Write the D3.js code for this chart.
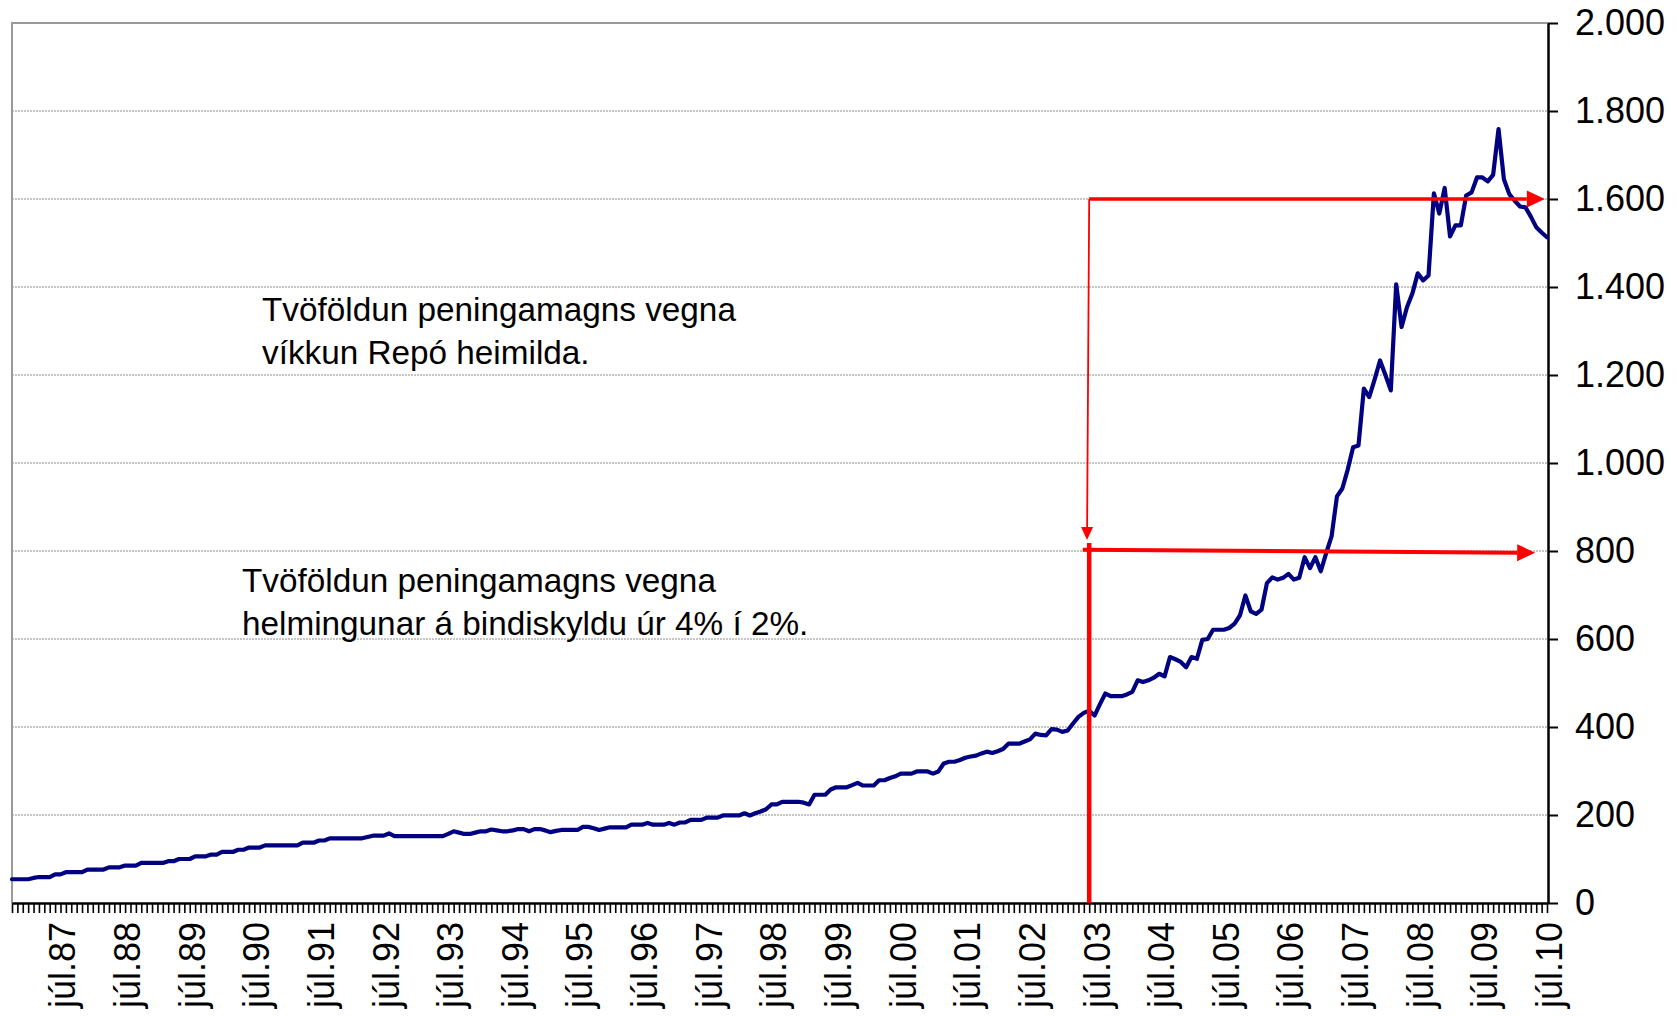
<!DOCTYPE html>
<html>
<head>
<meta charset="utf-8">
<script src="https://cdn.jsdelivr.net/npm/d3@7"></script>
<style>
  html, body { margin: 0; padding: 0; background: #fff; }
  svg { display: block; font-family: "Liberation Sans", Arial, sans-serif; }
</style>
</head>
<body>
<div id="chart"></div>
<script>
// Peningamagn, monthly values from okt.1986 to júl.2010
const firstMonth = new Date(1986, 9, 1);
const monthNames = ['jan', 'feb', 'mar', 'apr', 'maí', 'jún', 'júl', 'ágú', 'sep', 'okt', 'nóv', 'des'];
const labelMonth = 6; // only júl gets a label

const values = [
    54, 54, 54, 54, 57, 59, 59, 59, 65, 65, 70, 70,
    70, 70, 76, 76, 76, 76, 81, 81, 81, 85, 85, 85,
    91, 91, 91, 91, 91, 95, 95, 100, 100, 100, 106, 106,
    106, 110, 110, 116, 116, 116, 121, 121, 126, 126, 126, 131,
    131, 131, 131, 131, 131, 131, 137, 137, 137, 142, 142, 147,
    147, 147, 147, 147, 147, 147, 150, 153, 153, 153, 158, 152,
    152, 152, 152, 152, 152, 152, 152, 152, 152, 157, 163, 160,
    157, 157, 160, 163, 163, 167, 165, 163, 163, 165, 168, 168,
    163, 168, 168, 165, 161, 164, 166, 166, 166, 166, 173, 173,
    170, 166, 169, 172, 172, 172, 172, 178, 178, 178, 182, 178,
    178, 178, 182, 178, 183, 183, 189, 189, 189, 194, 194, 194,
    199, 199, 199, 199, 204, 199, 204, 208, 213, 224, 224, 230,
    230, 230, 230, 228, 224, 246, 246, 246, 258, 263, 263, 263,
    268, 273, 267, 267, 267, 279, 279, 284, 288, 294, 294, 294,
    299, 299, 299, 294, 299, 317, 321, 321, 325, 330, 333, 335,
    340, 344, 341, 345, 350, 362, 362, 362, 367, 372, 385, 382,
    381, 395, 394, 389, 392, 408, 423, 432, 437, 426, 452, 476,
    470, 470, 470, 474, 480, 506, 502, 506, 512, 521, 515, 559,
    554, 548, 536, 559, 555, 598, 600, 621, 621, 621, 625, 635,
    654, 699, 663, 657, 667, 727, 740, 735, 739, 748, 735, 739,
    786, 761, 786, 754, 795, 833, 924, 942, 985, 1036, 1040, 1169,
    1150, 1190, 1233, 1200, 1165, 1406, 1309, 1354, 1385, 1431, 1415, 1426,
    1613, 1567, 1625, 1515, 1540, 1540, 1608, 1615, 1649, 1649, 1640, 1655,
    1759, 1645, 1611, 1596, 1583, 1581, 1560, 1536, 1524, 1513
];

const yTicks = [0, 200, 400, 600, 800, 1000, 1200, 1400, 1600, 1800, 2000];

// red guide lines (month index, value) and the notes next to them
const guideMonth = 200;
const guideLines = [
    { from: [guideMonth, 0], to: [guideMonth, 818], width: 4.5, arrow: false },
    { from: [guideMonth - 1.2, 803], to: [282.8, 796], width: 4, arrow: true },
    { from: [guideMonth, 1600], to: [284.6, 1600], width: 3.5, arrow: true },
    { from: [guideMonth, 1600], to: [199.6, 825], width: 1.8, arrow: true, small: true }
];
const notes = [
    ['Tvöföldun peningamagns vegna', 'víkkun Repó heimilda.'],
    ['Tvöföldun peningamagns vegna', 'helmingunar á bindiskyldu úr 4% í 2%.']
];

const width = 1678, height = 1016;
const plot = { left: 12, right: 1547, top: 23, bottom: 903 };

const months = values.map((v, i) => d3.timeMonth.offset(firstMonth, i));

const svg = d3.select('#chart').append('svg')
    .attr('width', width)
    .attr('height', height);

svg.append('rect').attr('width', width).attr('height', height).attr('fill', '#fff');

const x = d3.scaleLinear().domain([0, values.length - 1]).range([plot.left, plot.right]);
const y = d3.scaleLinear().domain([0, 2000]).range([plot.bottom, plot.top]);

const isLocale = d3.formatLocale({ decimal: ',', thousands: '.', grouping: [3], currency: ['', ' kr.'] });
const fmt = isLocale.format(',d');

// gridlines
svg.append('g')
    .selectAll('line')
    .data(yTicks.filter(d => d > 0 && d < 2000))
    .enter().append('line')
    .attr('x1', plot.left).attr('x2', plot.right + 1)
    .attr('y1', d => y(d)).attr('y2', d => y(d))
    .attr('stroke', '#8c8c8c')
    .attr('stroke-width', 1)
    .attr('stroke-dasharray', '2,1');

// plot area border (top + left)
svg.append('path')
    .attr('d', `M${plot.left},${plot.bottom}V${y(2000)}H${plot.right + 1}`)
    .attr('fill', 'none')
    .attr('stroke', '#9a9a9a')
    .attr('stroke-width', 2);

// x axis: a tick for every month
const xAxis = d3.axisBottom(x)
    .tickValues(d3.range(values.length))
    .tickFormat('')
    .tickSize(10)
    .tickSizeOuter(0);

const gx = svg.append('g')
    .attr('transform', `translate(0,${plot.bottom})`)
    .call(xAxis);
gx.select('.domain').attr('stroke', '#000').attr('stroke-width', 2.5);
gx.selectAll('.tick line').attr('stroke', '#000').attr('stroke-width', 1.6);

// júl labels, rotated
const labelIdx = d3.range(values.length).filter(i => months[i].getMonth() === labelMonth);
svg.append('g')
    .selectAll('text')
    .data(labelIdx)
    .enter().append('text')
    .attr('transform', i => `translate(${x(i) + 2},${plot.bottom + 19}) rotate(-90)`)
    .attr('text-anchor', 'end')
    .attr('dy', '0.36em')
    .attr('font-size', 36)
    .attr('fill', '#000')
    .text(i => monthNames[labelMonth] + '.' + String(months[i].getFullYear() % 100).padStart(2, '0'));

// y axis on the right
const yAxis = d3.axisRight(y)
    .tickValues(yTicks)
    .tickFormat(fmt)
    .tickSize(10)
    .tickSizeOuter(0)
    .tickPadding(17);

const gy = svg.append('g')
    .attr('transform', `translate(${plot.right + 1},0)`)
    .call(yAxis);
gy.select('.domain').attr('stroke', '#000').attr('stroke-width', 2.5);
gy.selectAll('.tick line').attr('stroke', '#000').attr('stroke-width', 2);
gy.selectAll('.tick text')
    .attr('font-size', 36)
    .attr('font-family', '"Liberation Sans", Arial, sans-serif')
    .attr('fill', '#000');

// the series
const line = d3.line()
    .x((d, i) => x(i))
    .y(d => y(d));

svg.append('path')
    .datum(values)
    .attr('d', line)
    .attr('fill', 'none')
    .attr('stroke', '#000080')
    .attr('stroke-width', 4.2)
    .attr('stroke-linejoin', 'round')
    .attr('stroke-linecap', 'round');

// red guides
const guides = svg.append('g');
guideLines.forEach(g => {
    const x1 = x(g.from[0]), y1 = y(g.from[1]);
    const x2 = x(g.to[0]), y2 = y(g.to[1]);
    const len = g.small ? 13 : 18;
    const half = g.small ? 6 : 8.5;
    const ang = Math.atan2(y2 - y1, x2 - x1);
    const bx = g.arrow ? x2 - Math.cos(ang) * len : x2;
    const by = g.arrow ? y2 - Math.sin(ang) * len : y2;
    guides.append('line')
        .attr('x1', x1).attr('y1', y1)
        .attr('x2', bx).attr('y2', by)
        .attr('stroke', '#ff0000')
        .attr('stroke-width', g.width);
    if (g.arrow) {
        const px = -Math.sin(ang) * half, py = Math.cos(ang) * half;
        guides.append('path')
            .attr('d', `M${x2},${y2}L${bx + px},${by + py}L${bx - px},${by - py}Z`)
            .attr('fill', '#ff0000');
    }
});

// notes
const notePos = [[262, 321], [242, 592]];
notes.forEach((lines, k) => {
    const t = svg.append('text')
        .attr('x', notePos[k][0])
        .attr('y', notePos[k][1])
        .attr('font-size', 33.3)
        .attr('fill', '#000');
    lines.forEach((s, j) => {
        t.append('tspan')
            .attr('x', notePos[k][0])
            .attr('dy', j === 0 ? 0 : 43)
            .text(s);
    });
});
</script>
</body>
</html>
